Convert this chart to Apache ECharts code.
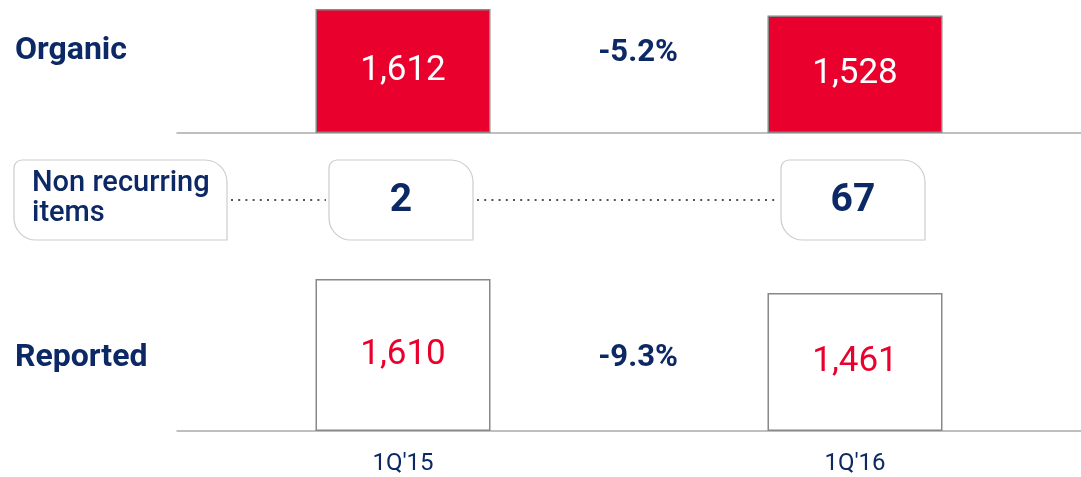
<!DOCTYPE html>
<html>
<head>
<meta charset="utf-8">
<script src="https://cdn.jsdelivr.net/npm/echarts@6/dist/echarts.min.js"></script>
<style>
  html, body { margin: 0; padding: 0; background: #fff; }
  #chart { width: 1081px; height: 477px; }
</style>
</head>
<body>
<div id="chart"></div>
<script>
// data
const quarters = ["1Q'15", "1Q'16"];
const organic = [1612, 1528];
const nonRecurring = [2, 67];
const reported = [1610, 1461];
const organicChange = "-5.2%";
const reportedChange = "-9.3%";
const rowLabels = ["Organic", "Non recurring\nitems", "Reported"];

const navy = "#0c2965";
const red = "#e9002c";
const font = "Roboto";

// box with rounded top-left (small), top-right and bottom-left (big)
function calloutPath(w, h) {
  const r1 = 8, r2 = 22;
  return "M" + r1 + " 0 L" + (w - r2) + " 0 A" + r2 + " " + r2 + " 0 0 1 " + w + " " + r2 +
    " L" + w + " " + h + " L" + r2 + " " + h + " A" + r2 + " " + r2 + " 0 0 1 0 " + (h - r2) +
    " L0 " + r1 + " A" + r1 + " " + r1 + " 0 0 1 " + r1 + " 0 Z";
}

const fmt = (p) => p.value.toLocaleString("en-US");
const boxW = 144, boxH = 80;
const labelBox = { x: 14, y: 160, w: 213, h: 80 };
const boxStyle = { fill: "#fff", stroke: "#cccccc", lineWidth: 1.2 };

const xAxisBase = {
  type: "category",
  data: quarters,
  axisTick: { show: false },
  axisLine: { lineStyle: { color: "#aaaaaa", width: 1.5 } },
};

const chart = echarts.init(document.getElementById("chart"));
chart.setOption({
  animation: false,
  grid: [
    { left: 177, right: 0, top: 9, height: 124 },
    { left: 177, right: 0, top: 160, height: 80 },
    { left: 177, right: 0, top: 279, height: 152 },
  ],
  xAxis: [
    Object.assign({}, xAxisBase, { gridIndex: 0, axisLabel: { show: false } }),
    Object.assign({}, xAxisBase, { gridIndex: 1, show: false }),
    Object.assign({}, xAxisBase, {
      gridIndex: 2,
      axisLabel: { color: navy, fontFamily: font, fontSize: 24, margin: 21 },
    }),
  ],
  yAxis: [
    { type: "value", gridIndex: 0, show: false, min: 0, max: Math.max(...organic) },
    { type: "value", gridIndex: 1, show: false, min: 0, max: 1 },
    { type: "value", gridIndex: 2, show: false, min: 0, max: Math.max(...reported) },
  ],
  graphic: [
    {
      type: "text", x: 15, y: 51,
      style: { text: rowLabels[0], fill: navy, fontFamily: font, fontWeight: "bold", fontSize: 32, verticalAlign: "middle" },
    },
    {
      type: "text", x: 15, y: 358,
      style: { text: rowLabels[2], fill: navy, fontFamily: font, fontWeight: "bold", fontSize: 32, verticalAlign: "middle" },
    },
    {
      type: "text", x: 638, y: 53,
      style: { text: organicChange, fill: navy, fontFamily: font, fontWeight: "bold", fontSize: 31, align: "center", verticalAlign: "middle" },
    },
    {
      type: "text", x: 638, y: 358,
      style: { text: reportedChange, fill: navy, fontFamily: font, fontWeight: "bold", fontSize: 31, align: "center", verticalAlign: "middle" },
    },
  ],
  series: [
    {
      name: "Organic",
      type: "bar",
      xAxisIndex: 0, yAxisIndex: 0,
      barWidth: 175,
      data: organic,
      itemStyle: { color: red, borderColor: "#888888", borderWidth: 1.5 },
      label: { show: true, position: "inside", color: "#fff", fontFamily: font, fontSize: 35, formatter: fmt },
    },
    {
      name: "Non recurring items",
      type: "custom",
      xAxisIndex: 1, yAxisIndex: 1,
      data: nonRecurring.map((v, i) => [i, v]),
      renderItem: function (params, api) {
        const i = api.value(0);
        const c = api.coord([i, 0.5]);
        const x0 = c[0] - boxW / 2 - 2;
        const y0 = c[1] - boxH / 2;
        const prevRight = i === 0
          ? labelBox.x + labelBox.w
          : api.coord([i - 1, 0.5])[0] + boxW / 2 - 2;
        const children = [
          {
            type: "line",
            shape: { x1: prevRight + 4, y1: c[1], x2: x0 - 3, y2: c[1] },
            style: { stroke: "#555555", lineWidth: 2, lineDash: [2, 5.2] },
          },
          {
            type: "path",
            shape: { pathData: calloutPath(boxW, boxH), x: x0, y: y0, width: boxW, height: boxH },
            style: boxStyle,
          },
          {
            type: "text",
            style: {
              text: String(api.value(1)), x: x0 + boxW / 2, y: c[1] + 1,
              align: "center", verticalAlign: "middle",
              fill: navy, fontFamily: font, fontWeight: "bold", fontSize: 39,
            },
          },
        ];
        // row label box on the left, drawn once
        if (i === 0) {
          children.push(
            {
              type: "path",
              shape: { pathData: calloutPath(labelBox.w, labelBox.h), x: labelBox.x, y: labelBox.y, width: labelBox.w, height: labelBox.h },
              style: boxStyle,
            },
            {
              type: "text",
              style: {
                text: rowLabels[1], x: 32, y: labelBox.y + labelBox.h / 2 - 1,
                verticalAlign: "middle",
                fill: navy, fontFamily: font, fontWeight: 500, fontSize: 29, lineHeight: 30,
              },
            }
          );
        }
        return { type: "group", children: children };
      },
    },
    {
      name: "Reported",
      type: "bar",
      xAxisIndex: 2, yAxisIndex: 2,
      barWidth: 175,
      data: reported,
      itemStyle: { color: "#fff", borderColor: "#888888", borderWidth: 1.5 },
      label: { show: true, position: "inside", color: red, fontFamily: font, fontSize: 35, formatter: fmt },
    },
  ],
});
</script>
</body>
</html>
